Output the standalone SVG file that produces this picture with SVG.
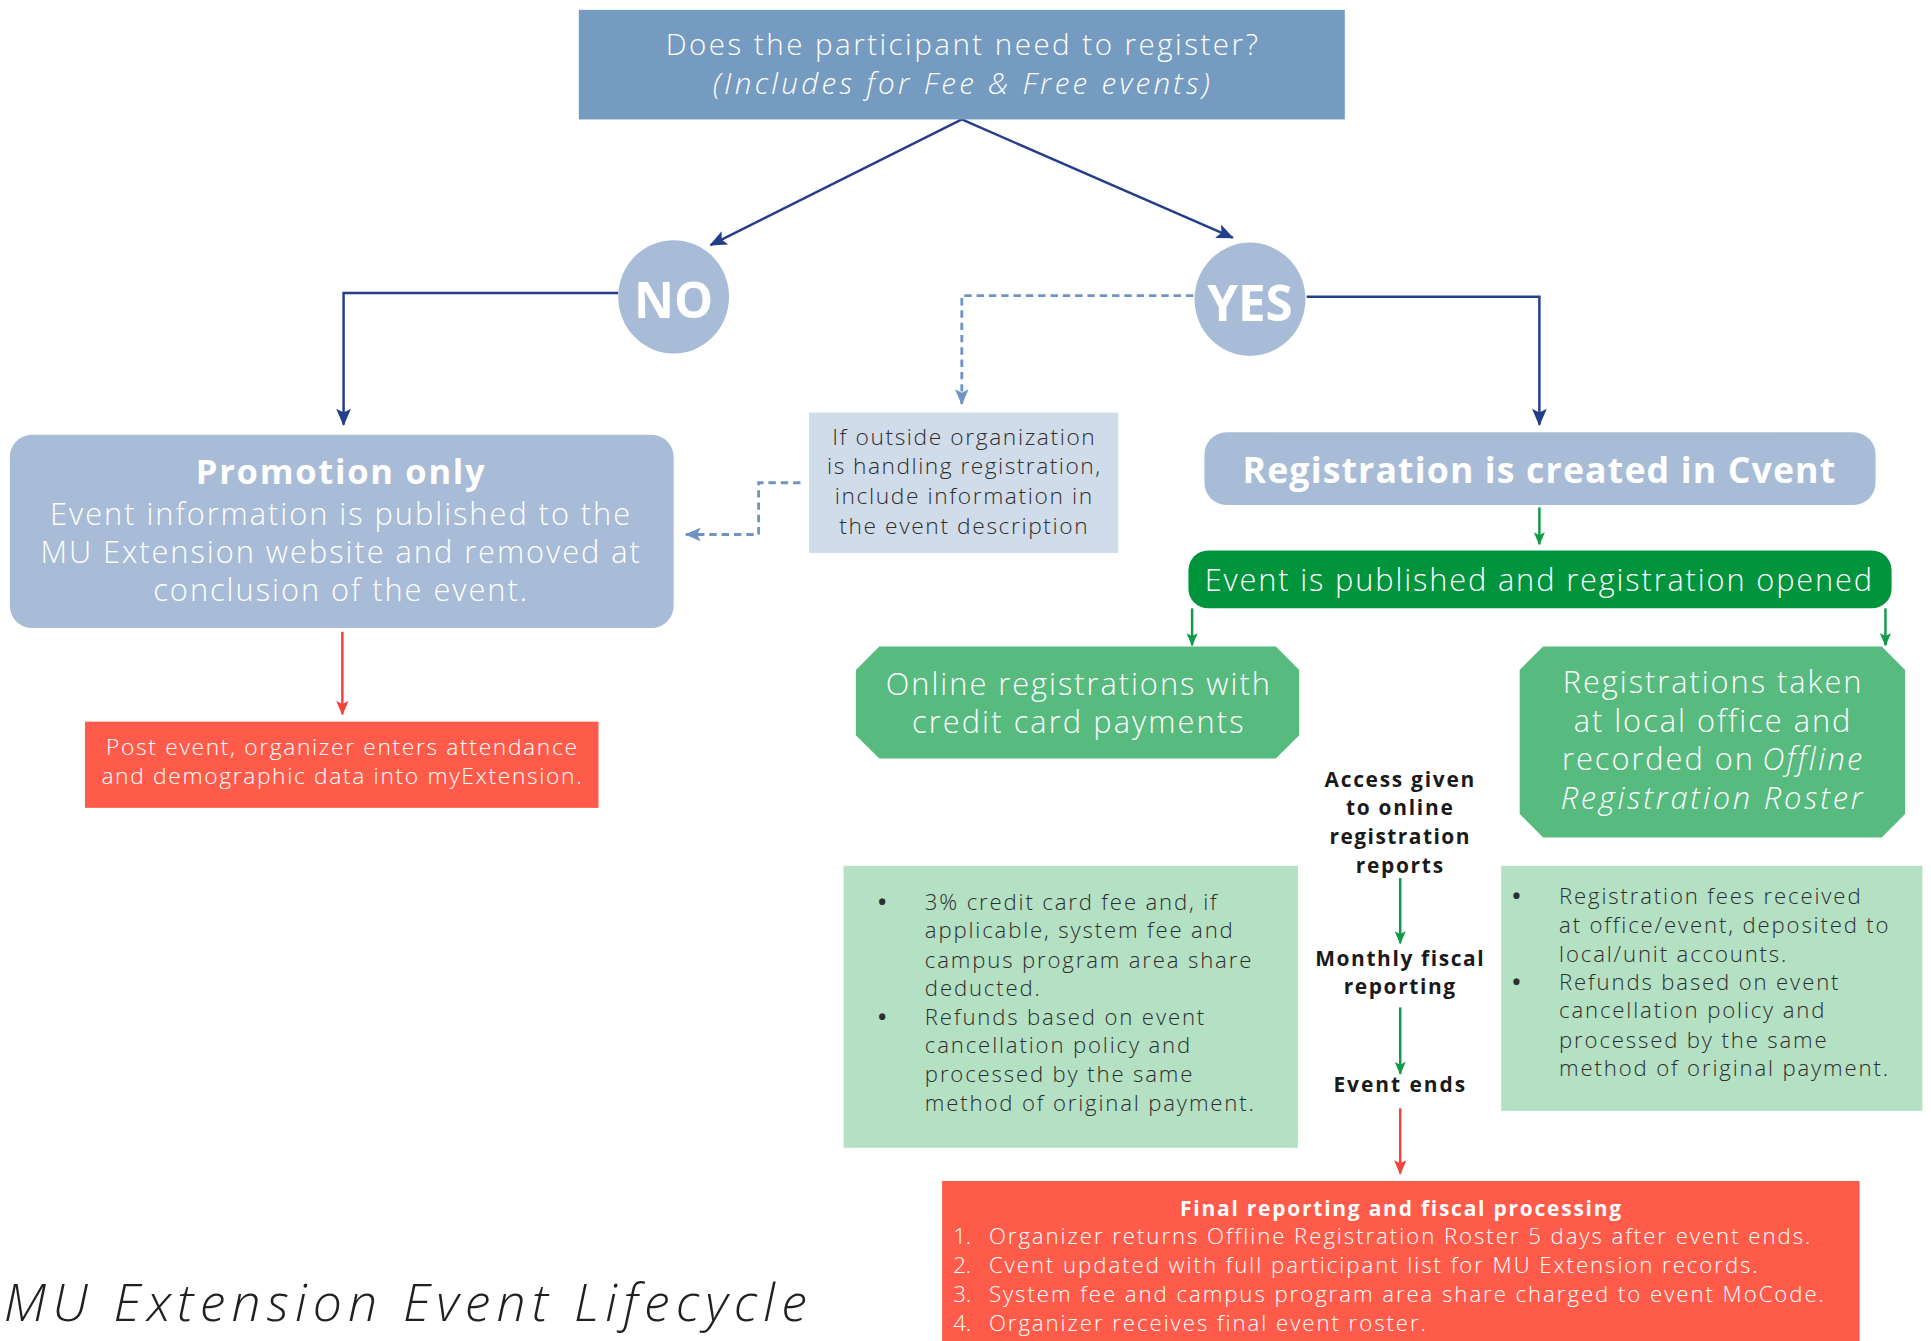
<svg xmlns="http://www.w3.org/2000/svg" width="1931" height="1341" viewBox="0 0 1931 1341">
<defs>
<marker id="mNavy" viewBox="0 0 14 12" refX="13" refY="6" markerUnits="userSpaceOnUse" markerWidth="15" markerHeight="12" orient="auto"><path d="M0,0 L14,6 L0,12 L3,6 z" fill="#243e8c"/></marker>
<marker id="mDash" viewBox="0 0 14 12" refX="13" refY="6" markerUnits="userSpaceOnUse" markerWidth="15" markerHeight="11" orient="auto"><path d="M0,0 L14,6 L0,12 L3,6 z" fill="#6f94c3"/></marker>
<marker id="mGreen" viewBox="0 0 14 12" refX="13" refY="6" markerUnits="userSpaceOnUse" markerWidth="12" markerHeight="9" orient="auto"><path d="M0,0 L14,6 L0,12 L3,6 z" fill="#109b47"/></marker>
<marker id="mRed" viewBox="0 0 14 12" refX="13" refY="6" markerUnits="userSpaceOnUse" markerWidth="13" markerHeight="10" orient="auto"><path d="M0,0 L14,6 L0,12 L3,6 z" fill="#f4433a"/></marker>
</defs>
<style>
text{font-family:"Open Sans","Liberation Sans",sans-serif;font-weight:300}
.w{fill:#ffffff}
.d{fill:#2e2e2e}
.k{fill:#1a1a1a}
.c{text-anchor:middle}
.e{text-anchor:end}
.b{font-weight:700}
.i{font-style:italic}
.bul{font-weight:700}
.navy{fill:none;stroke:#243e8c;stroke-width:2}
.dash{fill:none;stroke:#6f94c3;stroke-width:2.3;stroke-dasharray:6 4}
.grn{fill:none;stroke:#109b47;stroke-width:2}
.red{fill:none;stroke:#f4433a;stroke-width:2}
</style>
<rect width="1931" height="1341" fill="#ffffff"/>
<g transform="scale(1.23151)">
<g id="connectors">
<path class="navy" d="M781,97 L577,199" marker-end="url(#mNavy)"/>
<path class="navy" d="M781,97 L1001,193" marker-end="url(#mNavy)"/>
<path class="navy" d="M502,238 L279,238 L279,345" marker-end="url(#mNavy)"/>
<path class="navy" d="M1061,241 L1250,241 L1250,345" marker-end="url(#mNavy)"/>
<path class="dash" d="M969,240 L781,240 L781,328" marker-end="url(#mDash)"/>
<path class="dash" d="M650,392 L616,392 L616,434 L557,434" marker-end="url(#mDash)"/>
<path class="red" d="M278,513 L278,580" marker-end="url(#mRed)"/>
<path class="grn" d="M1250,412 L1250,442" marker-end="url(#mGreen)"/>
<path class="grn" d="M968,494 L968,524" marker-end="url(#mGreen)"/>
<path class="grn" d="M1531,494 L1531,524" marker-end="url(#mGreen)"/>
<path class="grn" d="M1137,713 L1137,766" marker-end="url(#mGreen)"/>
<path class="grn" d="M1137,818 L1137,872" marker-end="url(#mGreen)"/>
<path class="red" d="M1137,900 L1137,953" marker-end="url(#mRed)"/>
</g>
<g id="question">
<rect x="470" y="8" width="622" height="89" fill="#769bc1"/>
<text class="w c" x="782" y="45" font-size="24" letter-spacing="2">Does the participant need to register?</text>
<text class="w c i" x="782" y="76" font-size="24" letter-spacing="2.7">(Includes for Fee &amp; Free events)</text>
</g>
<g id="no">
<ellipse cx="547" cy="241" rx="45" ry="46" fill="#a8bcd7"/>
<text class="w c b" x="547" y="258" font-size="40">NO</text>
</g>
<g id="yes">
<ellipse cx="1015" cy="243" rx="45" ry="46" fill="#a8bcd7"/>
<text class="w c b" x="1015" y="261" font-size="40">YES</text>
</g>
<g id="promotion">
<rect x="8" y="353" width="539" height="157" rx="18" fill="#a8bcd7"/>
<text class="w c b" x="277" y="393" font-size="28" letter-spacing="1.4">Promotion only</text>
<text class="w c" x="277" y="426" font-size="25" letter-spacing="1.6">Event information is published to the</text>
<text class="w c" x="277" y="457" font-size="25" letter-spacing="1.6">MU Extension website and removed at</text>
<text class="w c" x="277" y="488" font-size="25" letter-spacing="1.6">conclusion of the event.</text>
</g>
<g id="post-event">
<rect x="69" y="586" width="417" height="70" fill="#ff5b4a"/>
<text class="w c" x="278" y="613" font-size="18.5" letter-spacing="1.35">Post event, organizer enters attendance</text>
<text class="w c" x="278" y="637" font-size="18.5" letter-spacing="1.35">and demographic data into myExtension.</text>
</g>
<g id="outside-org">
<rect x="657" y="335" width="251" height="114" fill="#d1dcea"/>
<text class="d c" x="783" y="361" font-size="18.5" letter-spacing="1.3">If outside organization</text>
<text class="d c" x="783" y="385" font-size="18.5" letter-spacing="1.2">is handling registration,</text>
<text class="d c" x="783" y="409" font-size="18.5" letter-spacing="1.3">include information in</text>
<text class="d c" x="783" y="434" font-size="18.5" letter-spacing="1.3">the event description</text>
</g>
<g id="cvent">
<rect x="978" y="351" width="545" height="59" rx="18" fill="#a8bcd7"/>
<text class="w c b" x="1250" y="392" font-size="29" letter-spacing="0.9">Registration is created in Cvent</text>
</g>
<g id="published">
<rect x="965" y="447" width="571" height="47" rx="16" fill="#00953d"/>
<text class="w c" x="1250" y="480" font-size="25" letter-spacing="1.5">Event is published and registration opened</text>
</g>
<g id="online">
<path d="M714,525 L1036,525 L1055,544 L1055,597 L1036,616 L714,616 L695,597 L695,544 z" fill="#57bb7f"/>
<text class="w c" x="876" y="564" font-size="25" letter-spacing="1.6">Online registrations with</text>
<text class="w c" x="876" y="595" font-size="25" letter-spacing="1.7">credit card payments</text>
</g>
<g id="offline">
<path d="M1253,525 L1528,525 L1547,544 L1547,661 L1528,680 L1253,680 L1234,661 L1234,544 z" fill="#57bb7f"/>
<text class="w c" x="1391" y="563" font-size="25" letter-spacing="1.6">Registrations taken</text>
<text class="w c" x="1391" y="594" font-size="25" letter-spacing="1.6">at local office and</text>
<text class="w e" x="1425" y="625" font-size="25" letter-spacing="1.6">recorded on</text>
<text class="w i" x="1431" y="625" font-size="25" letter-spacing="1.9">Offline</text>
<text class="w c i" x="1391" y="657" font-size="25" letter-spacing="2.3">Registration Roster</text>
</g>
<g id="timeline">
<text class="k c b" x="1137" y="639" font-size="17" letter-spacing="1.4">Access given</text>
<text class="k c b" x="1137" y="662" font-size="17" letter-spacing="1.4">to online</text>
<text class="k c b" x="1137" y="685" font-size="17" letter-spacing="1.2">registration</text>
<text class="k c b" x="1137" y="709" font-size="17" letter-spacing="1.4">reports</text>
<text class="k c b" x="1137" y="784" font-size="17" letter-spacing="1.3">Monthly fiscal</text>
<text class="k c b" x="1137" y="807" font-size="17" letter-spacing="1.3">reporting</text>
<text class="k c b" x="1137" y="887" font-size="17" letter-spacing="1.6">Event ends</text>
</g>
<g id="online-details">
<rect x="685" y="703" width="369" height="229" fill="#b4e0c3"/>
<text class="d bul" x="713" y="739" font-size="18">•</text>
<text class="d" x="751" y="739" font-size="18" letter-spacing="1.5">3% credit card fee and, if</text>
<text class="d" x="751" y="762" font-size="18" letter-spacing="1.5">applicable, system fee and</text>
<text class="d" x="751" y="786" font-size="18" letter-spacing="1.5">campus program area share</text>
<text class="d" x="751" y="809" font-size="18" letter-spacing="1.5">deducted.</text>
<text class="d bul" x="713" y="832" font-size="18">•</text>
<text class="d" x="751" y="832" font-size="18" letter-spacing="1.5">Refunds based on event</text>
<text class="d" x="751" y="855" font-size="18" letter-spacing="1.5">cancellation policy and</text>
<text class="d" x="751" y="879" font-size="18" letter-spacing="1.5">processed by the same</text>
<text class="d" x="751" y="902" font-size="18" letter-spacing="1.5">method of original payment.</text>
</g>
<g id="offline-details">
<rect x="1219" y="703" width="342" height="199" fill="#b4e0c3"/>
<text class="d bul" x="1228" y="734" font-size="18">•</text>
<text class="d" x="1266" y="734" font-size="18" letter-spacing="1.5">Registration fees received</text>
<text class="d" x="1266" y="758" font-size="18" letter-spacing="1.5">at office/event, deposited to</text>
<text class="d" x="1266" y="781" font-size="18" letter-spacing="1.5">local/unit accounts.</text>
<text class="d bul" x="1228" y="804" font-size="18">•</text>
<text class="d" x="1266" y="804" font-size="18" letter-spacing="1.5">Refunds based on event</text>
<text class="d" x="1266" y="827" font-size="18" letter-spacing="1.5">cancellation policy and</text>
<text class="d" x="1266" y="851" font-size="18" letter-spacing="1.5">processed by the same</text>
<text class="d" x="1266" y="874" font-size="18" letter-spacing="1.5">method of original payment.</text>
</g>
<g id="final">
<rect x="765" y="959" width="745" height="131" fill="#ff5b4a"/>
<text class="w c b" x="1138" y="987" font-size="17" letter-spacing="1.45">Final reporting and fiscal processing</text>
<text class="w" x="774" y="1010" font-size="18">1.</text>
<text class="w" x="803" y="1010" font-size="18" letter-spacing="1.6">Organizer returns Offline Registration Roster 5 days after event ends.</text>
<text class="w" x="774" y="1034" font-size="18">2.</text>
<text class="w" x="803" y="1034" font-size="18" letter-spacing="1.6">Cvent updated with full participant list for MU Extension records.</text>
<text class="w" x="774" y="1057" font-size="18">3.</text>
<text class="w" x="803" y="1057" font-size="18" letter-spacing="1.6">System fee and campus program area share charged to event MoCode.</text>
<text class="w" x="774" y="1081" font-size="18">4.</text>
<text class="w" x="803" y="1081" font-size="18" letter-spacing="1.6">Organizer receives final event roster.</text>
</g>
<g id="title">
<text class="i" x="3" y="1073" font-size="42" fill="#231f20" letter-spacing="5">MU Extension Event Lifecycle</text>
</g>
</g>
</svg>
